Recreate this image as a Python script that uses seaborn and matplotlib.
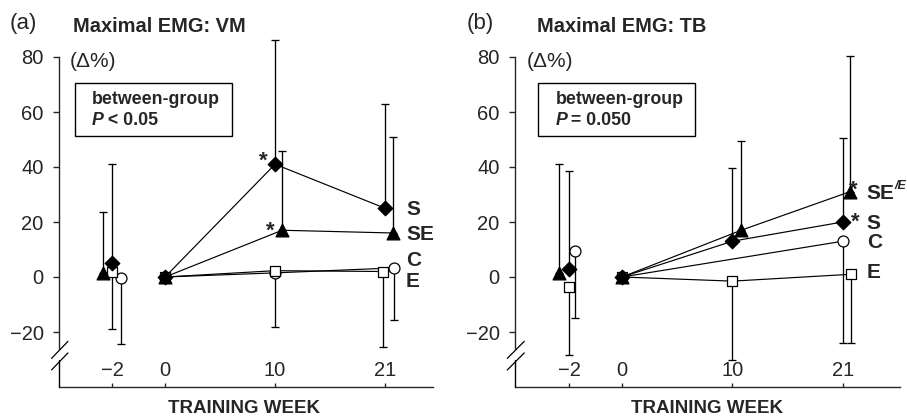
import matplotlib
matplotlib.use("Agg")
import matplotlib.pyplot as plt
import matplotlib.transforms as mtransforms
from matplotlib.patches import Rectangle
import numpy as np
import pandas as pd
import seaborn as sns

# ---- data ----
weeks = [-2, 0, 10, 21]
week_labels = ["\u22122", "0", "10", "21"]
groups = ["C", "E", "SE", "S"]

# (a) maximal EMG, VM (change %)
vm_S = [5, 0, 41, 25]
vm_SE = [1.5, 0, 17, 16]
vm_C = [-0.5, 0, 1.5, 3.3]
vm_E = [2, 0, 2.3, 2]
# one sided SD: up for S / SE, down for C / E
vm_S_sd = [36, 0, 45, 38]
vm_SE_sd = [22, 0, 29, 35]
vm_C_sd = [24, 0, 0, 19]
vm_E_sd = [21, 0, 20.3, 27.5]

# (b) maximal EMG, TB (change %)
tb_S = [3, 0, 13, 20]
tb_SE = [1.5, 0, 17, 31]
tb_C = [9.4, 0, np.nan, 13]
tb_E = [-3.6, 0, -1.5, 1]
tb_S_sd = [35.5, 0, 26.5, 30.5]
tb_SE_sd = [39.5, 0, 32.5, 49.5]
tb_C_sd = [24.4, 0, np.nan, 37]
tb_E_sd = [24.8, 0, 28.5, 25]

# ---- layout (not data) ----
xpos = {-2: -0.48, 0: 0.0, 10: 1.0, 21: 2.0}
vm_shift = {"S": [0, 0, 0, 0], "SE": [-0.08, 0, 0.065, 0.075],
            "C": [0.08, 0, 0, 0.08], "E": [0, 0, 0, -0.02]}
tb_shift = {"S": [0, 0, 0, 0], "SE": [-0.09, 0, 0.08, 0.065],
            "C": [0.055, 0, 0, 0], "E": [0, 0, 0, 0.08]}
markers = {"S": "D", "SE": "^", "C": "o", "E": "s"}
faces = {"S": "black", "SE": "black", "C": "white", "E": "white"}
msize = {"S": 55, "SE": 85, "C": 62, "E": 62}
sd_up = {"S": True, "SE": True, "C": False, "E": False}

sns.set_style("ticks")
plt.rcParams["font.family"] = ["Liberation Sans", "DejaVu Sans"]
plt.rcParams["axes.linewidth"] = 1.0


def make_df(vals, sds, shift):
    rows = []
    for g in groups:
        for i, w in enumerate(weeks):
            if np.isnan(vals[g][i]):
                continue
            rows.append(dict(group=g, week=w, x=xpos[w] + shift[g][i],
                             y=vals[g][i], sd=sds[g][i]))
    return pd.DataFrame(rows)


def draw_panel(ax, df, xlim):
    # connecting lines (week 0 onwards)
    lines = df[df.week >= 0]
    sns.lineplot(data=lines, x="x", y="y", units="group", estimator=None,
                 color="black", lw=0.85, sort=True, ax=ax, zorder=2)
    # one-sided error bars
    for g in groups:
        d = df[(df.group == g) & (df.week != 0)]
        if sd_up[g]:
            err = [np.zeros(len(d)), d.sd.values]
        else:
            err = [d.sd.values, np.zeros(len(d))]
        eb = ax.errorbar(d.x, d.y, yerr=err, fmt="none", ecolor="black",
                         elinewidth=0.95, capsize=3.2, capthick=0.95, zorder=1)
        for art in eb.lines[1] + eb.lines[2]:
            art.set_clip_on(False)
    # markers, open ones first so the filled ones sit on top at week 0
    for g in groups:
        d = df[df.group == g]
        sns.scatterplot(data=d, x="x", y="y", marker=markers[g], s=msize[g],
                        color=faces[g], edgecolor="black", linewidth=0.9,
                        ax=ax, zorder=3 + groups.index(g))

    ax.set_xlim(*xlim)
    ax.set_ylim(-40, 80)
    ax.set_yticks([-20, 0, 20, 40, 60, 80])
    ax.set_yticklabels(["\u221220", "0", "20", "40", "60", "80"])
    ax.set_xticks([xpos[w] for w in weeks])
    ax.set_xticklabels(week_labels)
    ax.tick_params(axis="y", direction="out", length=4, width=1.0,
                   labelsize=14.5, pad=7)
    ax.tick_params(axis="x", direction="in", length=3, width=1.0,
                   labelsize=14.5, pad=-19)
    ax.set_xlabel("")
    ax.set_ylabel("")
    sns.despine(ax=ax)
    # broken y axis
    ax.spines["left"].set_bounds(-26, 80)
    tr = mtransforms.blended_transform_factory(ax.transAxes, ax.transData)
    ax.plot([0, 0], [-40, -30], color="black", lw=1.0, transform=tr,
            clip_on=False)
    ax.plot([-0.02, 0.024], [-33.8, -27.6], color="black", lw=0.9,
            transform=tr, clip_on=False)
    ax.plot([-0.02, 0.024], [-29.6, -23.4], color="black", lw=0.9,
            transform=tr, clip_on=False)
    ax.text(0.03, 0.985, "(\u0394%)", transform=ax.transAxes, fontsize=15,
            va="center", ha="left")


fig = plt.figure(figsize=(9.07, 4.19), dpi=100)
ax_a = fig.add_axes([59 / 907, 1 - 387 / 419, 374 / 907, 330 / 419])
ax_b = fig.add_axes([515 / 907, 1 - 387 / 419, 385 / 907, 330 / 419])

df_a = make_df({"S": vm_S, "SE": vm_SE, "C": vm_C, "E": vm_E},
               {"S": vm_S_sd, "SE": vm_SE_sd, "C": vm_C_sd, "E": vm_E_sd},
               vm_shift)
df_b = make_df({"S": tb_S, "SE": tb_SE, "C": tb_C, "E": tb_E},
               {"S": tb_S_sd, "SE": tb_SE_sd, "C": tb_C_sd, "E": tb_E_sd},
               tb_shift)

draw_panel(ax_a, df_a, (-0.964, 2.436))
draw_panel(ax_b, df_b, (-0.97, 2.52))

lab = dict(fontsize=15, fontweight="bold", va="center", ha="left")
star = dict(fontsize=16, fontweight="bold", ha="center", va="baseline")
# (a) group labels and stars
for txt, yy in zip(["S", "SE", "C", "E"], [24.5, 15.5, 6, -1.5]):
    ax_a.text(2.19, yy, txt, **lab)
ax_a.text(0.89, 40, "*", **star)
ax_a.text(0.955, 14.5, "*", **star)
# (b)
for txt, yy in zip(["S", "C", "E"], [19.5, 12.5, 1.5]):
    ax_b.text(2.22, yy, txt, **lab)
ax_b.text(2.215, 30.5, "SE", **lab)
ax_b.annotate("/E", (2.215, 30.5), xytext=(20.2, 5), textcoords="offset points",
              fontsize=9, fontweight="bold", fontstyle="italic",
              va="center", ha="left")
ax_b.text(2.1, 29.5, "*", **star)
ax_b.text(2.115, 18, "*", **star)

# between-group boxes
for ax, x0, x1, ptxt in [(ax_a, 16 / 374, 173 / 374, " < 0.05"),
                         (ax_b, 23 / 385, 180 / 385, " = 0.050")]:
    ax.add_patch(Rectangle((x0, 0.761), x1 - x0, 0.16, transform=ax.transAxes,
                           fill=False, lw=1.0, edgecolor="black",
                           clip_on=False))
    ax.text(x0 + 0.045, 0.872, "between-group", transform=ax.transAxes,
            fontsize=12.8, fontweight="bold", va="center", ha="left")
    ax.text(x0 + 0.045, 0.808, "P", transform=ax.transAxes, fontsize=12.8,
            fontweight="bold", fontstyle="italic", va="center", ha="left")
    ax.annotate(ptxt, (x0 + 0.045, 0.808), xycoords="axes fraction",
                xytext=(7.8, 0), textcoords="offset points", fontsize=12.8,
                fontweight="bold", va="center", ha="left")

# panel titles and x labels
fig.text(10 / 907, 1 - 23 / 419, "(a)", fontsize=16, va="center")
fig.text(73 / 907, 1 - 27 / 419, "Maximal EMG: VM", fontsize=14.4,
         fontweight="bold", va="center")
fig.text(467 / 907, 1 - 23 / 419, "(b)", fontsize=16, va="center")
fig.text(537 / 907, 1 - 27 / 419, "Maximal EMG: TB", fontsize=14.4,
         fontweight="bold", va="center")
fig.text(244 / 907, 1 - 408 / 419, "TRAINING WEEK", fontsize=13.5,
         fontweight="bold", ha="center", va="center")
fig.text(707 / 907, 1 - 408 / 419, "TRAINING WEEK", fontsize=13.5,
         fontweight="bold", ha="center", va="center")

fig.savefig("out.png", dpi=100)
